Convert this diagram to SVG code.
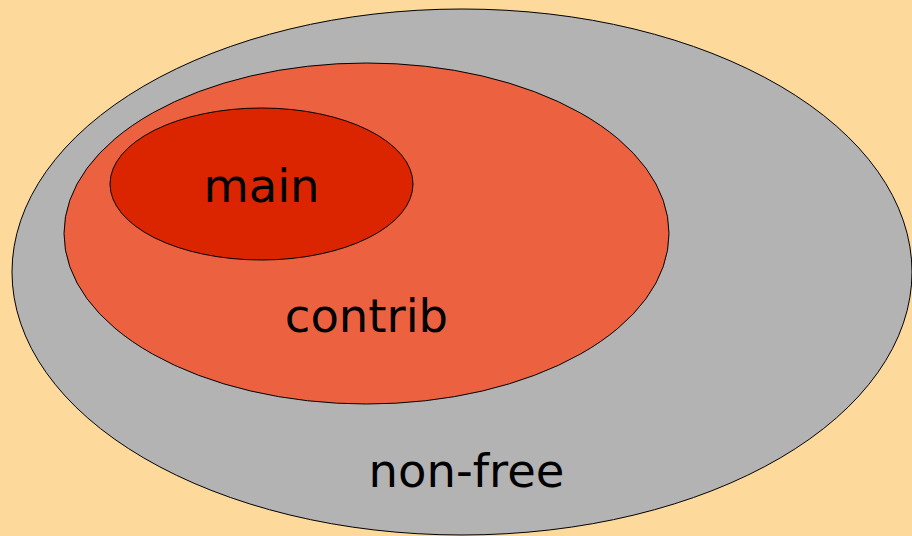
<svg xmlns="http://www.w3.org/2000/svg" width="912" height="536" viewBox="0 0 912 536">
<style>
.e{stroke:#000;stroke-width:1}
.t{font-family:"DejaVu Sans",sans-serif;font-size:46.5px;fill:#000;text-anchor:middle}
</style>
<rect width="912" height="536" fill="#FDD99B"/>
<g id="non-free">
<ellipse class="e" cx="462" cy="272" rx="450" ry="263" fill="#B3B3B3"/>
<text class="t" x="466.5" y="487">non-free</text>
</g>
<g id="contrib">
<ellipse class="e" cx="366.5" cy="233.5" rx="302.5" ry="170.5" fill="#EC6241"/>
<text class="t" x="366.5" y="332">contrib</text>
</g>
<g id="main">
<ellipse class="e" cx="261.5" cy="184" rx="151.5" ry="76" fill="#DB2500"/>
<text class="t" x="261.5" y="202">main</text>
</g>
<g id="connectors"/>
</svg>
